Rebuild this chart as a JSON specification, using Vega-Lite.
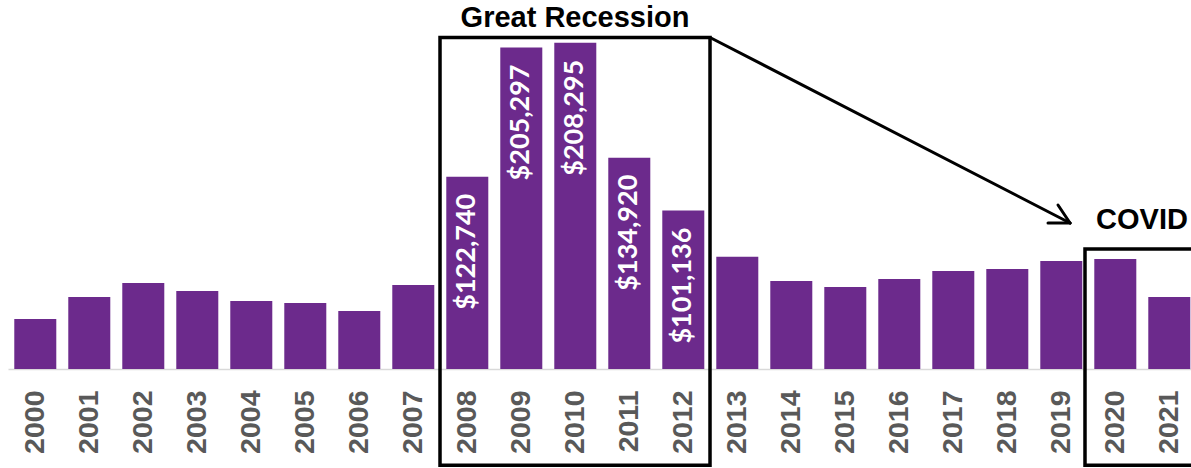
{
  "$schema": "https://vega.github.io/schema/vega-lite/v6.json",
  "width": 1183,
  "height": 369,
  "autosize": {"type": "none"},
  "padding": {"left": 8, "top": 0, "right": 0, "bottom": 99},
  "background": "white",
  "config": {"view": {"stroke": null}},
  "resolve": {"scale": {"x": "independent"}},
  "layer": [
    {
      "data": {
        "values": [
          {"year": "2000", "value": 31900},
          {"year": "2001", "value": 45970},
          {"year": "2002", "value": 54900},
          {"year": "2003", "value": 49800},
          {"year": "2004", "value": 43400},
          {"year": "2005", "value": 42100},
          {"year": "2006", "value": 37000},
          {"year": "2007", "value": 53600},
          {"year": "2008", "value": 122740, "label": "$122,740"},
          {"year": "2009", "value": 205297, "label": "$205,297"},
          {"year": "2010", "value": 208295, "label": "$208,295"},
          {"year": "2011", "value": 134920, "label": "$134,920"},
          {"year": "2012", "value": 101136, "label": "$101,136"},
          {"year": "2013", "value": 71700},
          {"year": "2014", "value": 56200},
          {"year": "2015", "value": 52400},
          {"year": "2016", "value": 57500},
          {"year": "2017", "value": 62600},
          {"year": "2018", "value": 63800},
          {"year": "2019", "value": 69000},
          {"year": "2020", "value": 70200},
          {"year": "2021", "value": 46000}
        ]
      },
      "encoding": {
        "x": {
          "field": "year",
          "type": "ordinal",
          "sort": null,
          "scale": {"paddingInner": 0.222, "paddingOuter": 0.0646, "align": 0.9},
          "axis": {
            "title": null,
            "labelAngle": -90,
            "labelFont": "Liberation Sans",
            "labelFontWeight": "bold",
            "labelFontSize": 28.5,
            "labelColor": "#595959",
            "labelPadding": 21,
            "ticks": false,
            "tickSize": 0,
            "domainColor": "#d9d9d9",
            "domainWidth": 1.5,
            "labelOverlap": false
          }
        },
        "y": {
          "field": "value",
          "type": "quantitative",
          "scale": {"domain": [0, 235600], "nice": false, "zero": false},
          "axis": null
        }
      },
      "layer": [
        {"mark": {"type": "bar", "color": "#6C2A8C"}},
        {
          "transform": [{"filter": "isValid(datum.label)"}],
          "mark": {
            "type": "text",
            "angle": 270,
            "align": "right",
            "baseline": "middle",
            "dx": -17,
            "font": "Lato",
            "fontWeight": "bold",
            "fontSize": 27,
            "color": "white"
          },
          "encoding": {"text": {"field": "label"}}
        }
      ]
    },
    {
      "layer": [
        {
          "data": {
            "values": [
              {"u": 8.0, "u2": 13.0, "v": 211660, "v2": -61490},
              {"u": 19.944, "u2": 23.0, "v": 76620, "v2": -61490}
            ]
          },
          "mark": {"type": "rect", "fill": null, "filled": false, "stroke": "black", "strokeWidth": 3.5},
          "encoding": {
            "x": {"field": "u", "type": "quantitative", "scale": {"domain": [0, 21.907], "nice": false, "zero": false}, "axis": null},
            "x2": {"field": "u2"},
            "y": {"field": "v", "type": "quantitative", "scale": {"domain": [0, 235600], "nice": false, "zero": false}, "axis": null},
            "y2": {"field": "v2"}
          }
        },
        {
          "data": {
            "values": [
              {"u": 13.0, "u2": 19.667, "v": 211660, "v2": 93220},
              {"u": 19.444, "u2": 19.667, "v": 104710, "v2": 93220},
              {"u": 19.259, "u2": 19.667, "v": 93220, "v2": 93220}
            ]
          },
          "mark": {"type": "rule", "color": "black", "strokeWidth": 3, "strokeCap": "round"},
          "encoding": {
            "x": {"field": "u", "type": "quantitative", "scale": {"domain": [0, 21.907], "nice": false, "zero": false}, "axis": null},
            "x2": {"field": "u2"},
            "y": {"field": "v", "type": "quantitative", "scale": {"domain": [0, 235600], "nice": false, "zero": false}, "axis": null},
            "y2": {"field": "v2"}
          }
        },
        {
          "data": {
            "values": [
              {"u": 10.5, "v": 218370, "text": "Great Recession"},
              {"u": 21.0, "v": 89390, "text": "COVID"}
            ]
          },
          "mark": {
            "type": "text",
            "align": "center",
            "baseline": "alphabetic",
            "font": "Liberation Sans",
            "fontWeight": "bold",
            "fontSize": 29,
            "color": "black"
          },
          "encoding": {
            "x": {"field": "u", "type": "quantitative", "scale": {"domain": [0, 21.907], "nice": false, "zero": false}, "axis": null},
            "y": {"field": "v", "type": "quantitative", "scale": {"domain": [0, 235600], "nice": false, "zero": false}, "axis": null},
            "text": {"field": "text"}
          }
        }
      ]
    }
  ]
}
